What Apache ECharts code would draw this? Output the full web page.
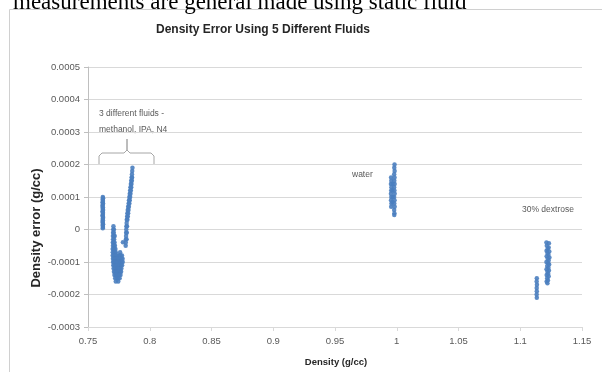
<!DOCTYPE html>
<html>
<head>
<meta charset="utf-8">
<script src="https://cdn.jsdelivr.net/npm/echarts/dist/echarts.min.js"></script>
<style>
  html, body { margin: 0; padding: 0; background: #fff; }
  #chart { width: 602px; height: 372px; }
</style>
</head>
<body>
<div id="chart"></div>
<script>
// readings, [density g/cc, density error g/cc]
const methanolPts = [
  [0.7620, 0.000100], [0.7622, 0.000096], [0.7619, 0.000092], [0.7621, 0.000088], [0.7618, 0.000084],
  [0.7622, 0.000080], [0.7620, 0.000076], [0.7617, 0.000072], [0.7621, 0.000068], [0.7619, 0.000064],
  [0.7622, 0.000060], [0.7618, 0.000056], [0.7620, 0.000052], [0.7621, 0.000048], [0.7618, 0.000044],
  [0.7620, 0.000040], [0.7622, 0.000036], [0.7619, 0.000032], [0.7621, 0.000028], [0.7618, 0.000024],
  [0.7620, 0.000020], [0.7622, 0.000016], [0.7619, 0.000012], [0.7621, 0.000008], [0.7620, 0.000004]
];
const ipaPts = [
  [0.7706, 0.000010], [0.7704, 0.000000], [0.7710, 0.000000], [0.7703, -0.000010], [0.7709, -0.000010],
  [0.7702, -0.000020], [0.7710, -0.000020], [0.7716, -0.000020], [0.7703, -0.000030], [0.7711, -0.000030],
  [0.7701, -0.000040], [0.7708, -0.000040], [0.7715, -0.000040], [0.7702, -0.000050], [0.7710, -0.000050],
  [0.7718, -0.000050], [0.7700, -0.000060], [0.7707, -0.000060], [0.7714, -0.000060], [0.7722, -0.000060],
  [0.7701, -0.000070], [0.7709, -0.000070], [0.7717, -0.000070], [0.7725, -0.000070], [0.7760, -0.000070],
  [0.7700, -0.000080], [0.7708, -0.000080], [0.7716, -0.000080], [0.7724, -0.000080], [0.7732, -0.000080],
  [0.7745, -0.000080], [0.7755, -0.000080], [0.7765, -0.000080], [0.7775, -0.000080],
  [0.7702, -0.000090], [0.7710, -0.000090], [0.7718, -0.000090], [0.7726, -0.000090], [0.7735, -0.000090],
  [0.7744, -0.000090], [0.7752, -0.000090], [0.7762, -0.000090], [0.7772, -0.000090], [0.7780, -0.000090],
  [0.7703, -0.000100], [0.7711, -0.000100], [0.7720, -0.000100], [0.7728, -0.000100], [0.7737, -0.000100],
  [0.7746, -0.000100], [0.7755, -0.000100], [0.7764, -0.000100], [0.7773, -0.000100], [0.7781, -0.000100],
  [0.7705, -0.000110], [0.7713, -0.000110], [0.7722, -0.000110], [0.7731, -0.000110], [0.7740, -0.000110],
  [0.7749, -0.000110], [0.7758, -0.000110], [0.7767, -0.000110], [0.7776, -0.000110],
  [0.7707, -0.000120], [0.7716, -0.000120], [0.7725, -0.000120], [0.7734, -0.000120], [0.7743, -0.000120],
  [0.7752, -0.000120], [0.7761, -0.000120], [0.7770, -0.000120],
  [0.7710, -0.000130], [0.7720, -0.000130], [0.7730, -0.000130], [0.7740, -0.000130], [0.7750, -0.000130],
  [0.7760, -0.000130], [0.7768, -0.000130],
  [0.7714, -0.000140], [0.7724, -0.000140], [0.7734, -0.000140], [0.7744, -0.000140], [0.7754, -0.000140],
  [0.7763, -0.000140], [0.7720, -0.000150], [0.7732, -0.000150], [0.7745, -0.000150], [0.7756, -0.000150],
  [0.7725, -0.000160], [0.7745, -0.000160]
];
const n4Pts = [
  [0.7783, -0.000039],
  [0.7805, -0.000050], [0.7806, -0.000040], [0.7807, -0.000030], [0.7812, -0.000030], [0.7808, -0.000020],
  [0.7809, -0.000010], [0.7814, -0.000010], [0.7810, 0.000000], [0.7811, 0.000010], [0.7816, 0.000010],
  [0.7813, 0.000020], [0.7814, 0.000030], [0.7819, 0.000030], [0.7817, 0.000040], [0.7822, 0.000040],
  [0.7819, 0.000050], [0.7825, 0.000050], [0.7822, 0.000060], [0.7828, 0.000060], [0.7825, 0.000070],
  [0.7831, 0.000070], [0.7829, 0.000080], [0.7835, 0.000080], [0.7832, 0.000090], [0.7838, 0.000090],
  [0.7835, 0.000100], [0.7841, 0.000100], [0.7838, 0.000110], [0.7844, 0.000110], [0.7841, 0.000120],
  [0.7847, 0.000120], [0.7844, 0.000130], [0.7850, 0.000130], [0.7847, 0.000140], [0.7852, 0.000140],
  [0.7850, 0.000150], [0.7855, 0.000150], [0.7853, 0.000160], [0.7857, 0.000160], [0.7856, 0.000170],
  [0.7858, 0.000180], [0.7860, 0.000190]
];
const waterPts = [
  [0.9954, 0.000160], [0.9956, 0.000150], [0.9953, 0.000140], [0.9957, 0.000130], [0.9955, 0.000120],
  [0.9953, 0.000110], [0.9956, 0.000100], [0.9954, 0.000090], [0.9957, 0.000080], [0.9955, 0.000070],
  [0.9966, 0.000140], [0.9965, 0.000120], [0.9967, 0.000100], [0.9965, 0.000085],
  [0.9982, 0.000200], [0.9980, 0.000190], [0.9983, 0.000180], [0.9979, 0.000170], [0.9982, 0.000160],
  [0.9980, 0.000150], [0.9983, 0.000140], [0.9979, 0.000130], [0.9981, 0.000120], [0.9983, 0.000110],
  [0.9979, 0.000100], [0.9982, 0.000090], [0.9980, 0.000080], [0.9983, 0.000070], [0.9979, 0.000060],
  [0.9981, 0.000050], [0.9980, 0.000045]
];
const dextrosePts = [
  [1.1212, -0.000040], [1.1232, -0.000042], [1.1215, -0.000050], [1.1230, -0.000055], [1.1222, -0.000060],
  [1.1213, -0.000065], [1.1235, -0.000068], [1.1220, -0.000072], [1.1228, -0.000078], [1.1214, -0.000082],
  [1.1236, -0.000086], [1.1222, -0.000090], [1.1230, -0.000095], [1.1212, -0.000100], [1.1226, -0.000104],
  [1.1234, -0.000108], [1.1218, -0.000112], [1.1228, -0.000118], [1.1213, -0.000122], [1.1232, -0.000126],
  [1.1220, -0.000130], [1.1226, -0.000136], [1.1214, -0.000140], [1.1230, -0.000144], [1.1218, -0.000150],
  [1.1224, -0.000156], [1.1214, -0.000160], [1.1220, -0.000165],
  [1.1134, -0.000150], [1.1133, -0.000160], [1.1135, -0.000170], [1.1133, -0.000180], [1.1134, -0.000190],
  [1.1133, -0.000200], [1.1134, -0.000210]
];
const xTicks = [0.75, 0.8, 0.85, 0.9, 0.95, 1, 1.05, 1.1, 1.15];
const yTicks = [-0.0003, -0.0002, -0.0001, 0, 0.0001, 0.0002, 0.0003, 0.0004, 0.0005];

const sans = '"Liberation Sans", Arial, sans-serif';
const labelGray = '#595959';
const gridGray = '#d9d9d9';

const chart = echarts.init(document.getElementById('chart'));
chart.setOption({
  animation: false,
  backgroundColor: '#fff',
  grid: { left: 88, right: 20, top: 67, bottom: 45 },
  xAxis: [
    {
      type: 'value',
      min: xTicks[0],
      max: xTicks[xTicks.length - 1],
      interval: 0.05,
      axisLine: { show: false },
      axisTick: { show: false },
      splitLine: { show: false },
      axisLabel: {
        color: labelGray, fontFamily: sans, fontSize: 9.5, margin: 9,
        formatter: (v) => String(parseFloat(v.toFixed(2)))
      }
    },
    {
      type: 'value',
      min: xTicks[0],
      max: xTicks[xTicks.length - 1],
      interval: 0.05,
      position: 'bottom',
      axisLine: { show: true, onZero: true, lineStyle: { color: gridGray } },
      axisTick: { show: true, length: 4, lineStyle: { color: gridGray } },
      axisLabel: { show: false },
      splitLine: { show: false }
    }
  ],
  yAxis: {
    type: 'value',
    min: yTicks[0],
    max: yTicks[yTicks.length - 1],
    interval: 0.0001,
    axisLine: { show: true, lineStyle: { color: '#bfbfbf' } },
    axisTick: { show: true, length: 4, lineStyle: { color: '#bfbfbf' } },
    splitLine: { lineStyle: { color: gridGray } },
    axisLabel: {
      color: labelGray, fontFamily: sans, fontSize: 9.5, margin: 8,
      formatter: (v) => String(parseFloat(v.toFixed(4)))
    }
  },
  series: [{
    type: 'scatter',
    xAxisIndex: 0,
    symbol: 'circle',
    symbolSize: 4.5,
    itemStyle: { color: '#4a7ebf', opacity: 0.9 },
    data: [].concat(methanolPts, ipaPts, n4Pts, waterPts, dextrosePts)
  }],
  graphic: [
    { type: 'rect', z: -10, shape: { x: 9.5, y: 9.5, width: 700, height: 500 },
      style: { fill: 'none', stroke: '#d0d0d0', lineWidth: 1 } },
    { type: 'text', left: 13, top: -9,
      style: { text: 'measurements are general made using static fluid', fill: '#000',
               font: '23px "Liberation Serif", "Times New Roman", serif' } },
    { type: 'text', x: 263, y: 30,
      style: { text: 'Density Error Using 5 Different Fluids', fill: '#262626',
               font: 'bold 12px ' + sans, textAlign: 'center', textVerticalAlign: 'middle' } },
    { type: 'text', x: 336, y: 362,
      style: { text: 'Density (g/cc)', fill: '#262626',
               font: 'bold 9.5px ' + sans, textAlign: 'center', textVerticalAlign: 'middle' } },
    { type: 'text', x: 36, y: 228, rotation: Math.PI / 2,
      style: { text: 'Density error (g/cc)', fill: '#262626',
               font: 'bold 13px ' + sans, textAlign: 'center', textVerticalAlign: 'middle' } },
    { type: 'text', x: 99, y: 114,
      style: { text: '3 different fluids -', fill: labelGray,
               font: '8.5px ' + sans, textVerticalAlign: 'middle' } },
    { type: 'text', x: 99, y: 130,
      style: { text: 'methanol, IPA, N4', fill: labelGray,
               font: '8.5px ' + sans, textVerticalAlign: 'middle' } },
    { type: 'polyline',
      shape: { points: [[99, 165], [99, 156], [102, 153], [124, 153], [127, 150], [127, 139],
                        [127, 150], [130, 153], [151, 153], [154, 156], [154, 165]] },
      style: { stroke: '#a6a6a6', lineWidth: 1, fill: 'none' } },
    { type: 'text', x: 352, y: 175,
      style: { text: 'water', fill: labelGray, font: '8.5px ' + sans, textVerticalAlign: 'middle' } },
    { type: 'text', x: 522, y: 210,
      style: { text: '30% dextrose', fill: labelGray, font: '8.5px ' + sans, textVerticalAlign: 'middle' } }
  ]
});
</script>
</body>
</html>
